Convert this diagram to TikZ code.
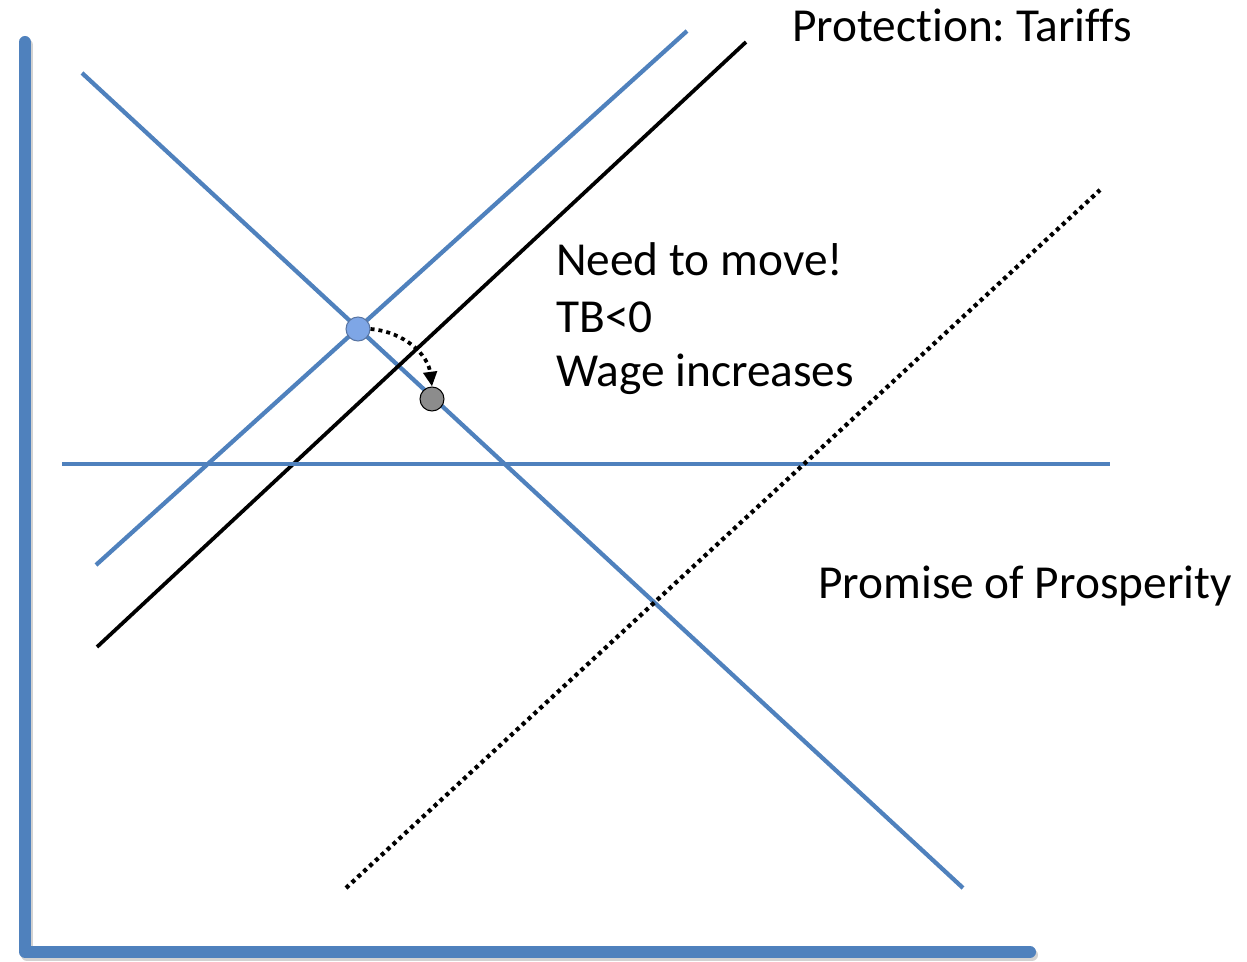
\documentclass[tikz,border=0pt]{standalone}
\usepackage{fontspec}
\setmainfont{Carlito}[Ligatures=NoCommon]
\frenchspacing
\usetikzlibrary{arrows.meta}
\definecolor{curveblue}{HTML}{4F81BD}
\definecolor{dotblue}{HTML}{7EA6E6}
\definecolor{dotgrey}{HTML}{8C8C8C}
\begin{document}
\begin{tikzpicture}[x=0.75pt,y=-0.75pt,
  axisline/.style={curveblue,line width=9pt,line cap=round,line join=round},
  bluecurve/.style={curveblue,line width=3.2pt},
  blackcurve/.style={black,line width=2.8pt},
  dottedcurve/.style={black,line width=3.2pt,dash pattern=on 3pt off 3pt},
  shadowline/.style={black!35,opacity=0.5},
  lbl/.style={font=\fontsize{35.5}{42}\selectfont,anchor=west,inner sep=0pt},
  eqdot/.style={circle,draw=black!70,line width=0.8pt,minimum size=18pt,inner sep=0pt}]
\useasboundingbox (0,0) rectangle (1247,962);
% axes with a soft shadow
\draw[axisline,shadowline] (27,45) -- (27,955) -- (1032,955);
\draw[axisline] (25,42) coordinate (ytop) -- (25,952) coordinate (origin) -- (1030,952) coordinate (xend);
% demand curve
\coordinate (d1) at (82,73);
\coordinate (d2) at (963,888);
\draw[bluecurve] (d1) -- (d2);
% original supply curve
\coordinate (s1) at (96,565);
\coordinate (s2) at (687,31);
\draw[bluecurve] (s1) -- (s2);
% supply curve under tariffs
\coordinate (t1) at (97,647);
\coordinate (t2) at (746,42);
\draw[blackcurve] (t1) -- (t2);
% world price line
\coordinate (h1) at (62,464);
\coordinate (h2) at (1110,464);
\draw[bluecurve] (h1) -- (h2);
% promised supply curve
\coordinate (p1) at (346,888);
\coordinate (p2) at (1100,190);
\draw[dottedcurve] (p1) -- (p2);
% equilibrium points and the move between them
\node[eqdot,fill=dotblue,draw=dotblue!70!black] (eq1) at (358,329) {};
\node[eqdot,fill=dotgrey,draw=black] (eq2) at (432,399) {};
\draw[black,line width=2.8pt,dash pattern=on 3pt off 3pt,-{Triangle[length=11pt,width=10pt]}]
  (eq1.east) .. controls (405,332) and (428,355) .. (eq2.north);
% labels
\node[lbl] (tariffs) at (792,25) {Protection: Tariffs};
\node[lbl] (move) at (556,259) {Need to move!};
\node[lbl] (tb) at (556,317) {TB<0};
\node[lbl] (wage) at (556,374) {Wage increases};
\node[lbl] (promise) at (818,586) {Promise of Prosperity};
\end{tikzpicture}
\end{document}
